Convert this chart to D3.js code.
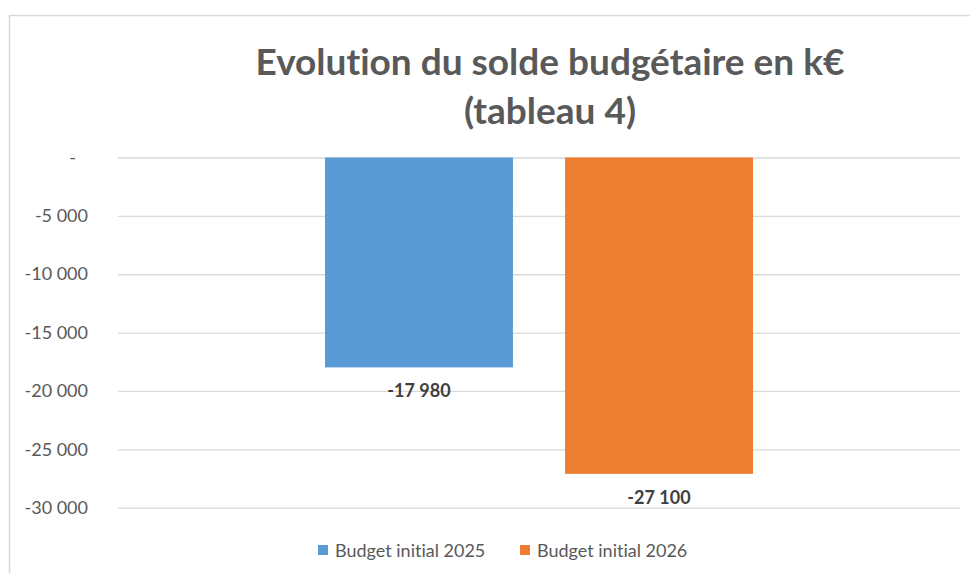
<!DOCTYPE html>
<html>
<head>
<meta charset="utf-8">
<script src="https://cdn.jsdelivr.net/npm/d3@7"></script>
<style>
  body { margin: 0; background: #fff; }
  text { font-family: Lato, "Open Sans", sans-serif; font-variant-ligatures: none; }
</style>
</head>
<body>
<div id="wrapper"></div>
<script>
const series = ["Budget initial 2025", "Budget initial 2026"];
const values = [-17980, -27100];
const colors = ["#5B9BD5", "#ED7D31"];
const yTicks = [0, -5000, -10000, -15000, -20000, -25000, -30000];
const titleLines = ["Evolution du solde budgétaire en k€", "(tableau 4)"];

const dimension = {
    width: 970,
    height: 573,
    margin: { top: 157.5, left: 118, bottom: 65, right: 10 }
};
dimension.boundedWidth = dimension.width - dimension.margin.left - dimension.margin.right;
dimension.boundedHeight = 507.7 - dimension.margin.top;

const svg = d3.select("#wrapper").append("svg")
    .attr("width", dimension.width)
    .attr("height", dimension.height);

// chart border
svg.append("rect")
    .attr("x", 9.5).attr("y", 15.5)
    .attr("width", 975).attr("height", 600)
    .attr("fill", "none")
    .attr("stroke", "#d9d9d9")
    .attr("stroke-width", 1.5);

const bounded = svg.append("g")
    .attr("transform", `translate(${dimension.margin.left}, ${dimension.margin.top})`);

const yScaler = d3.scaleLinear()
    .domain([0, -30000])
    .range([0, dimension.boundedHeight]);

// one category, two series side by side
const xScaler = d3.scaleBand()
    .domain(series)
    .range([207, 635])
    .paddingInner(0.217);

const fmt = d => d === 0 ? "-" : d3.format(",")(d).replace(/,/g, " ").replace("−", "-");

const yAxis = d3.axisLeft(yScaler)
    .tickValues(yTicks)
    .tickSize(-dimension.boundedWidth)
    .tickPadding(30)
    .tickFormat(fmt);

const yg = bounded.append("g").call(yAxis);
yg.select(".domain").remove();
yg.selectAll(".tick line").attr("stroke", "#d9d9d9").attr("stroke-width", 1.3);
yg.selectAll(".tick text")
    .attr("fill", "#595959")
    .style("font-size", "18px")
    .attr("x", -30);
yg.selectAll(".tick text").filter(d => d === 0).attr("x", -42);

bounded.selectAll("rect.bar")
    .data(values)
    .join("rect")
    .attr("class", "bar")
    .attr("x", (d, i) => xScaler(series[i]))
    .attr("y", d => yScaler(0))
    .attr("width", xScaler.bandwidth())
    .attr("height", d => yScaler(d) - yScaler(0))
    .attr("fill", (d, i) => colors[i]);

bounded.selectAll("text.label")
    .data(values)
    .join("text")
    .attr("class", "label")
    .attr("x", (d, i) => xScaler(series[i]) + xScaler.bandwidth() / 2)
    .attr("y", d => yScaler(d) + 30)
    .attr("text-anchor", "middle")
    .attr("fill", "#404040")
    .style("font-size", "18px")
    .style("font-weight", "bold")
    .text(d => fmt(d));

// title
svg.selectAll("text.title")
    .data(titleLines)
    .join("text")
    .attr("class", "title")
    .attr("x", 550)
    .attr("y", (d, i) => 75 + i * 49)
    .attr("text-anchor", "middle")
    .attr("fill", "#595959")
    .style("font-size", "37px")
    .style("font-weight", "bold")
    .text(d => d);

// legend
const legend = svg.append("g");
const legendX = [318, 520];
series.forEach((s, i) => {
    legend.append("rect")
        .attr("x", legendX[i]).attr("y", 545)
        .attr("width", 10).attr("height", 10)
        .attr("fill", colors[i]);
    legend.append("text")
        .attr("x", legendX[i] + 17).attr("y", 557)
        .attr("fill", "#595959")
        .style("font-size", "18px")
        .text(s);
});
</script>
</body>
</html>
